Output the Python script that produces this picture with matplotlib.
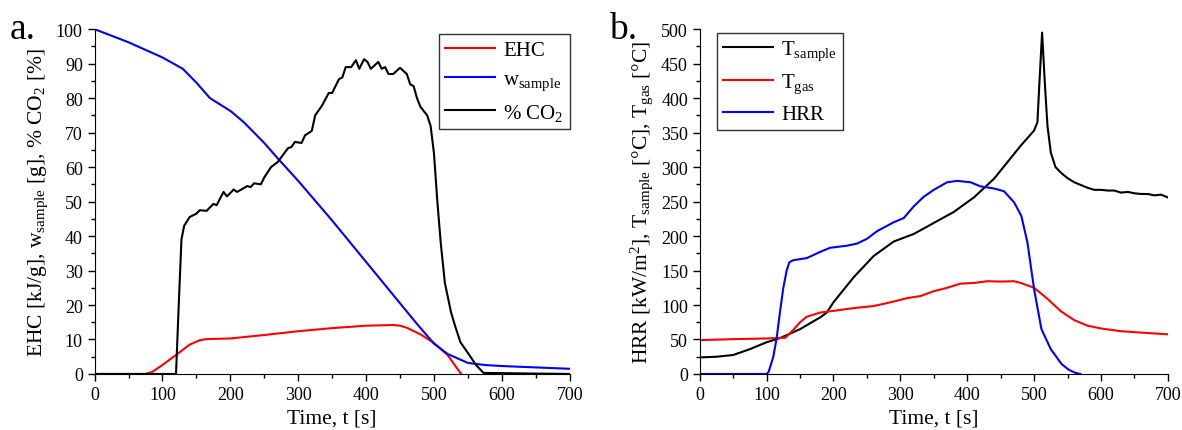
import numpy as np
import matplotlib.pyplot as plt
from matplotlib.ticker import MultipleLocator

plt.rcParams['font.family'] = ['Liberation Serif', 'DejaVu Serif']
plt.rcParams['mathtext.fontset'] = 'custom'
plt.rcParams['mathtext.rm'] = 'Liberation Serif'
plt.rcParams['mathtext.it'] = 'Liberation Serif:italic'

# ---- panel a ----
t_w = [0, 50, 100, 130, 150, 170, 200, 220, 250, 270, 300, 350, 400, 450, 475, 500, 520,
       550, 575, 600, 650, 700]
w_sample = [100, 96.2, 91.8, 88.5, 84.5, 80, 76.3, 73, 67, 62.5, 56, 44.5, 32.5, 20.5, 14.5,
            8.8, 5.8, 3.2, 2.6, 2.3, 1.9, 1.5]

t_ehc = [0, 75, 85, 100, 120, 140, 155, 165, 200, 250, 300, 350, 400, 440, 450, 460, 480,
         500, 520, 540]
ehc = [0, 0, 0.6, 2.6, 5.5, 8.5, 9.8, 10.1, 10.3, 11.3, 12.4, 13.3, 14.0, 14.2, 14.0, 13.4,
       11.5, 9.0, 5.5, 0]

t_co2 = [0, 120, 124, 128, 132, 140, 150, 155, 165, 175, 180, 190, 195, 205, 210, 225, 230,
         235, 245, 250, 260, 270, 285, 290, 295, 305, 310, 320, 325, 335, 345, 350, 360, 365,
         370, 378, 385, 390, 397, 402, 407, 418, 423, 428, 433, 440, 450, 460, 465, 470, 475,
         480, 490, 495, 500, 505, 510, 516, 525, 531, 539, 551, 562, 573, 700]
co2 = [0, 0, 20, 39, 43, 45.5, 46.5, 47.5, 47.3, 49.3, 49, 52.8, 51.5, 53.5, 52.8, 54.5, 54.2,
       55.3, 55, 57, 60, 61.5, 65.5, 65.8, 67.3, 67, 69.2, 70.5, 75, 77.8, 81.5, 81.5, 85.5, 86,
       89, 89, 91, 88.5, 91.3, 90.5, 88.5, 90.5, 88.5, 89, 87, 87, 88.8, 87, 84, 83.5, 80,
       77.5, 75, 72, 64, 50, 38, 26.5, 18, 14, 9.2, 5.8, 2.6, 0.3, 0]

# ---- panel b ----
t_ts = [0, 25, 50, 75, 100, 120, 150, 180, 190, 200, 230, 260, 290, 320, 350, 380, 410, 440,
        460, 480, 500, 505, 508, 512, 516, 520, 525, 532, 540, 550, 560, 570, 580, 590, 600,
        610, 620, 630, 640, 650, 660, 670, 680, 690, 700]
t_sample = [24, 25, 27.5, 36, 46, 52, 65, 82, 89, 104, 140, 171, 192, 203, 219, 235, 256, 283,
            307, 331, 353, 365, 423, 495, 423, 360, 321, 300, 292, 284, 278, 274, 270, 267, 267,
            266, 266, 263, 264, 262, 261, 261, 259, 260, 256]

t_gas_t = [0, 50, 100, 128, 140, 150, 160, 180, 200, 230, 260, 290, 310, 330, 350, 370, 390,
           410, 430, 450, 470, 480, 500, 520, 540, 560, 580, 600, 630, 660, 700]
t_gas = [49, 50.5, 51.5, 52.5, 64, 75, 83, 89, 91.5, 95.5, 98.5, 105, 110, 113, 120, 125, 131,
         132, 134.5, 134, 134.5, 132, 125, 109, 91, 78, 70, 66, 62, 60, 57.5]

t_hrr = [0, 100, 103, 110, 115, 120, 125, 130, 134, 140, 160, 180, 195, 220, 235, 250, 265,
         290, 305, 320, 335, 350, 370, 385, 405, 420, 440, 455, 470, 481, 490, 500, 511, 525,
         541, 552, 562, 569]
hrr = [0, 0, 3, 25, 52, 90, 125, 150, 162, 165, 168, 177, 183, 186, 189, 196, 207, 220, 226,
       243, 257, 267, 278, 280, 278, 272, 269, 265, 249, 229, 191, 123, 65, 36, 14.5, 6, 1.5, 0]

fig = plt.figure(figsize=(11.82, 4.31), dpi=100)
ax1 = fig.add_axes([0.080, 0.130, 0.402, 0.800])
ax2 = fig.add_axes([0.592, 0.130, 0.396, 0.800])

lw = 1.5
ax1.plot(t_ehc, ehc, color='#ff0000', lw=lw, label='EHC')
ax1.plot(t_w, w_sample, color='#0000ff', lw=lw, label=r'w$_\mathrm{sample}$')
ax1.plot(t_co2, co2, color='black', lw=lw, label=r'% CO$_\mathrm{2}$')
ax1.set_ylim(0, 100)
ax1.yaxis.set_major_locator(MultipleLocator(10))
ax1.yaxis.set_minor_locator(MultipleLocator(5))
ax1.set_ylabel(r'EHC [kJ/g], w$_\mathrm{sample}$ [g], % CO$_\mathrm{2}$ [%]', fontsize=15.5)

ax2.plot(t_ts, t_sample, color='black', lw=lw, label=r'T$_\mathrm{sample}$')
ax2.plot(t_gas_t, t_gas, color='#ff0000', lw=lw, label=r'T$_\mathrm{gas}$')
ax2.plot(t_hrr, hrr, color='#0000ff', lw=lw, label='HRR')
ax2.set_ylim(0, 500)
ax2.yaxis.set_major_locator(MultipleLocator(50))
ax2.yaxis.set_minor_locator(MultipleLocator(25))
ax2.set_ylabel(r'HRR [kW/m$^\mathrm{2}$], T$_\mathrm{sample}$ [°C], T$_\mathrm{gas}$ [°C]',
               fontsize=15.5)

for ax in (ax1, ax2):
    ax.set_xlim(0, 700)
    ax.xaxis.set_major_locator(MultipleLocator(100))
    ax.xaxis.set_minor_locator(MultipleLocator(50))
    ax.spines['top'].set_visible(False)
    ax.spines['right'].set_visible(False)
    ax.tick_params(which='major', direction='out', length=5, width=1, labelsize=13)
    ax.tick_params(which='minor', direction='out', length=3, width=1)
    ax.set_xlabel('Time, t [s]', fontsize=15.5)

leg_kw = dict(fontsize=15, frameon=True, fancybox=False, edgecolor='black',
              handlelength=2.4, borderpad=0.3, labelspacing=0.45, handletextpad=0.4,
              borderaxespad=0)
leg1 = ax1.legend(loc='upper right', bbox_to_anchor=(1.0, 0.985), **leg_kw)
leg1.get_frame().set_linewidth(1.0)
leg2 = ax2.legend(loc='upper left', bbox_to_anchor=(0.036, 0.99), **leg_kw)
leg2.get_frame().set_linewidth(1.0)

fig.text(0.008, 0.91, 'a.', fontsize=27)
fig.text(0.515, 0.91, 'b.', fontsize=27)

fig.savefig('out.png', dpi=100)
